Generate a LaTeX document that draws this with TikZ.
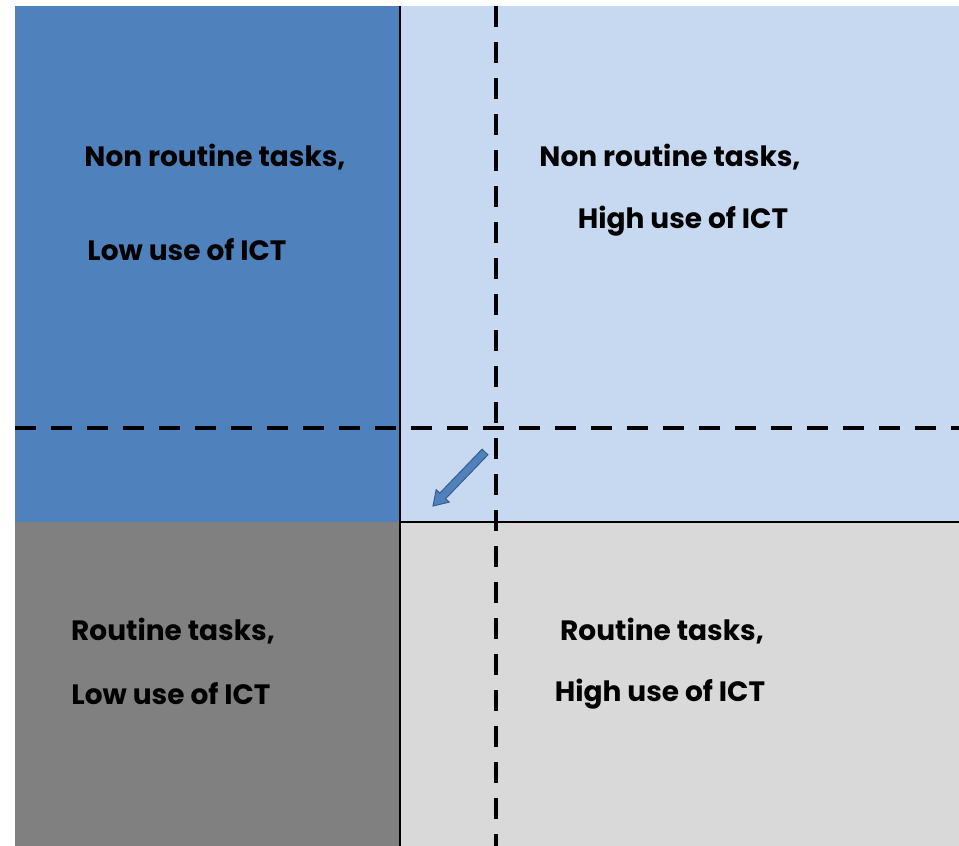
\documentclass[tikz,border=0pt]{standalone}
\usepackage{fontspec}
\setmainfont{Poppins}
\definecolor{tl}{HTML}{4F81BD}
\definecolor{tr}{HTML}{C6D9F1}
\definecolor{bl}{HTML}{808080}
\definecolor{br}{HTML}{D9D9D9}
\definecolor{arrowline}{HTML}{385D8A}
\tikzset{lbl/.style={font=\fontsize{28}{32}\selectfont\bfseries, text=black, inner sep=0pt, anchor=center},
 dsh/.style={line width=4pt, dash pattern=on 21pt off 15pt},
 sol/.style={line width=2pt}}
\begin{document}
\begin{tikzpicture}[x=1pt,y=-1pt]
\useasboundingbox (0,0) rectangle (959,846);
\fill[tl] (15,6) rectangle (400,522);
\fill[tr] (400,6) rectangle (959,522);
\fill[bl] (15,522) rectangle (400,846);
\fill[br] (400,522) rectangle (959,846);
\coordinate (vt) at (400,6); \coordinate (vb) at (400,846);
\coordinate (hl) at (400,522); \coordinate (hr) at (959,522);
\draw[sol] (vt) -- (vb);
\draw[sol] (hl) -- (hr);
\coordinate (dvt) at (496,6); \coordinate (dvb) at (496,846);
\coordinate (dhl) at (15,428); \coordinate (dhr) at (959,428);
\draw[dsh] (dvt) -- (dvb);
\draw[dsh] (dhl) -- (dhr);
% block arrow
\draw[arrowline, fill=tl, line width=1pt, line join=miter]
  (487.9,454.8) -- (445.6,498.7) -- (449.2,502.1) -- (433,506)
  -- (436.2,489.7) -- (439.8,493.1) -- (482.1,449.2) -- cycle;
\node[lbl] (t1) at (215,157) {Non routine tasks,};
\node[lbl] (t2) at (187,250) {Low use of ICT};
\node[lbl] (t3) at (670,157) {Non routine tasks,};
\node[lbl] (t4) at (683,221) {High use of ICT};
\node[lbl] (t5) at (173,631) {Routine tasks,};
\node[lbl] (t6) at (171,694) {Low use of ICT};
\node[lbl] (t7) at (662,631) {Routine tasks,};
\node[lbl] (t8) at (660,694) {High use of ICT};
\end{tikzpicture}
\end{document}
